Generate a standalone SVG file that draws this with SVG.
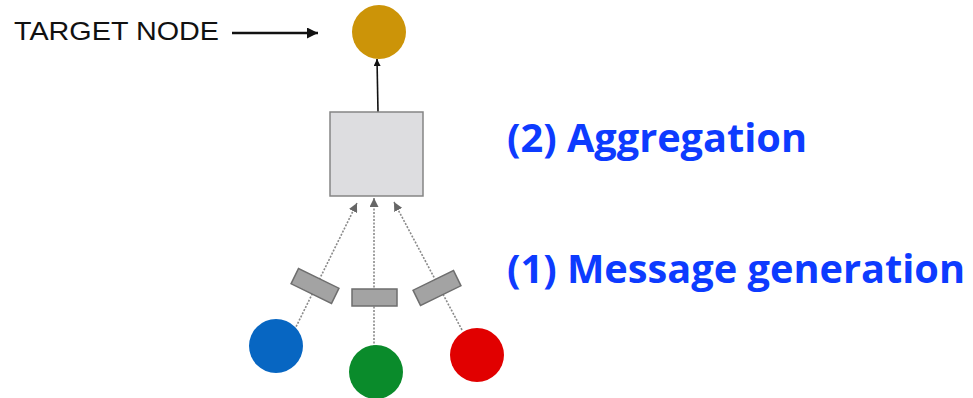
<svg xmlns="http://www.w3.org/2000/svg" width="973" height="398" viewBox="0 0 973 398">
  <defs>
    <marker id="headBlack" viewBox="0 0 10 10" refX="10" refY="5" markerWidth="7" markerHeight="7" orient="auto" markerUnits="userSpaceOnUse">
      <path d="M0,0 L10,5 L0,10 Z" fill="#111"/>
    </marker>
    <marker id="headBig" viewBox="0 0 10 10" refX="10" refY="5" markerWidth="14" markerHeight="11" orient="auto" markerUnits="userSpaceOnUse">
      <path d="M0,0 L10,5 L0,10 Z" fill="#111"/>
    </marker>
    <marker id="headGray" viewBox="0 0 10 10" refX="10" refY="5" markerWidth="9" markerHeight="9" orient="auto" markerUnits="userSpaceOnUse">
      <path d="M0,0 L10,5 L0,10 Z" fill="#666"/>
    </marker>
  </defs>
  <style>
    .node { stroke: none; }
    .msg { fill: #a3a3a3; stroke: #6e6e6e; stroke-width: 1.5; }
    .edge { stroke: #8a8a8a; stroke-width: 1.6; stroke-dasharray: 2 1.5; fill: none; }
    .label { font-family: "Open Sans", "Liberation Sans", sans-serif; font-weight: bold; fill: #0D3BFF; }
  </style>

  <rect width="973" height="398" fill="#ffffff"/>

  <!-- caption pointing to the target node -->
  <g id="target-label">
    <text x="14" y="40" font-family="Liberation Sans, Arial, sans-serif" font-size="26" fill="#111" textLength="205" lengthAdjust="spacingAndGlyphs">TARGET NODE</text>
    <line x1="232" y1="33" x2="318" y2="33" stroke="#111" stroke-width="2.4" marker-end="url(#headBig)"/>
  </g>

  <g id="connectors">
    <line x1="378" y1="112" x2="377" y2="59" stroke="#111" stroke-width="1.6" marker-end="url(#headBlack)"/>
    <line class="edge" x1="293" y1="333" x2="357" y2="203" marker-end="url(#headGray)"/>
    <line class="edge" x1="374" y1="347" x2="374" y2="198" marker-end="url(#headGray)"/>
    <line class="edge" x1="462" y1="330" x2="394" y2="202" marker-end="url(#headGray)"/>
  </g>

  <g id="target-node">
    <circle class="node" cx="379" cy="32" r="27" fill="#CC9408"/>
  </g>

  <g id="aggregator">
    <rect x="330" y="112" width="93" height="84" fill="#DDDDE0" stroke="#858585" stroke-width="1.5"/>
  </g>

  <g id="message-left">
    <rect class="msg" x="-22.5" y="-8.5" width="45" height="17" transform="translate(315 286) rotate(26)"/>
  </g>
  <g id="message-middle">
    <rect class="msg" x="352" y="289" width="45" height="17"/>
  </g>
  <g id="message-right">
    <rect class="msg" x="-22.5" y="-8.5" width="45" height="17" transform="translate(437 288) rotate(-26)"/>
  </g>

  <g id="neighbor-blue">
    <circle class="node" cx="276" cy="346" r="27" fill="#0766C2"/>
  </g>
  <g id="neighbor-green">
    <circle class="node" cx="376" cy="372" r="27" fill="#0A8B2B"/>
  </g>
  <g id="neighbor-red">
    <circle class="node" cx="477" cy="355" r="27" fill="#E10000"/>
  </g>

  <g id="step-labels">
    <text class="label" x="507" y="152" font-size="40" textLength="300" lengthAdjust="spacingAndGlyphs">(2) Aggregation</text>
    <text class="label" x="507" y="283" font-size="40" textLength="458" lengthAdjust="spacingAndGlyphs">(1) Message generation</text>
  </g>
</svg>
